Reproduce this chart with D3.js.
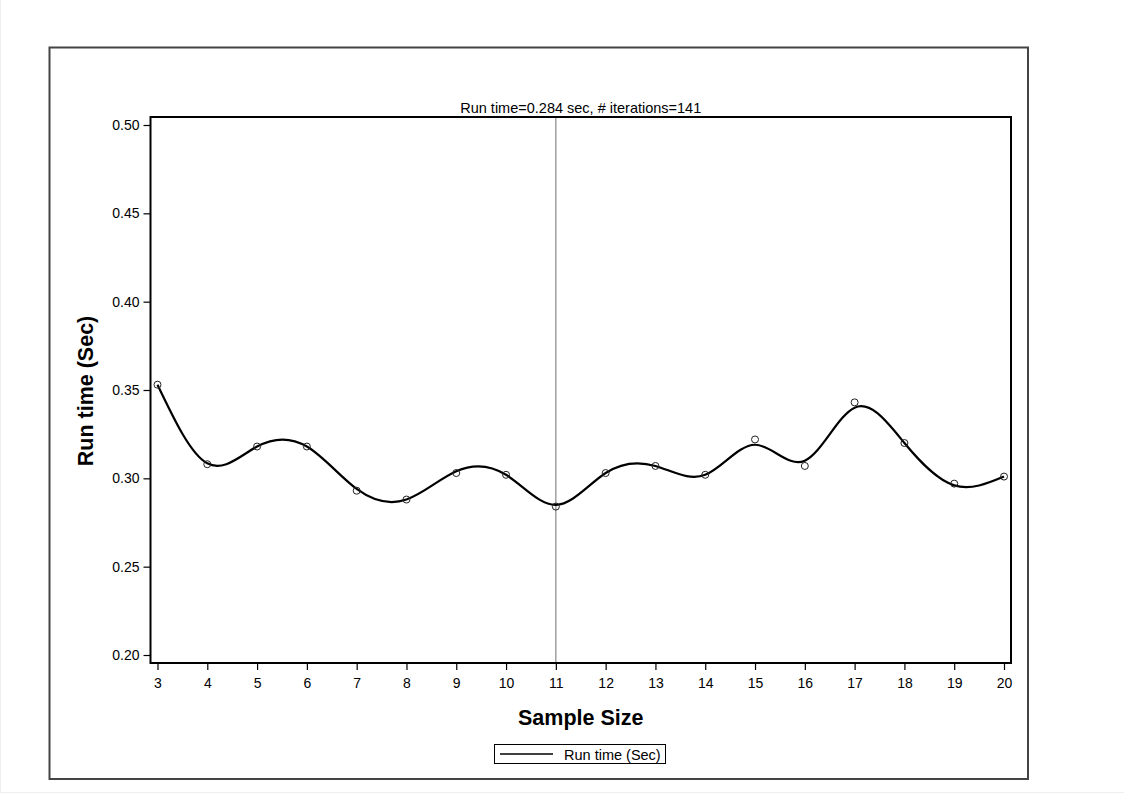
<!DOCTYPE html>
<html>
<head>
<meta charset="utf-8">
<script src="https://cdn.jsdelivr.net/npm/d3@7"></script>
<style>
  body { margin: 0; background: #fff; }
  text { font-family: "Liberation Sans", Arial, sans-serif; fill: #000; }
</style>
</head>
<body>
<svg id="chart" width="1124" height="793"></svg>
<script>
// sample sizes and observed run times
const sampleSizes = [3, 4, 5, 6, 7, 8, 9, 10, 11, 12, 13, 14, 15, 16, 17, 18, 19, 20];
const runTimes = [0.353, 0.308, 0.318, 0.318, 0.293, 0.288, 0.303, 0.302, 0.284, 0.303,
    0.307, 0.302, 0.322, 0.307, 0.343, 0.320, 0.297, 0.301];
// smoothed fit at each sample size
const fitTimes = [0.353, 0.3085, 0.318, 0.318, 0.294, 0.288, 0.304, 0.302, 0.285, 0.303,
    0.307, 0.302, 0.319, 0.310, 0.340, 0.320, 0.296, 0.301];
const yTicks = [0.20, 0.25, 0.30, 0.35, 0.40, 0.45, 0.50];
const refX = 11;
const titleText = "Run time=0.284 sec, # iterations=141";

const svg = d3.select("#chart");

// faint page edges
svg.append("line").attr("x1", 0.5).attr("x2", 0.5).attr("y1", 0).attr("y2", 793)
    .attr("stroke", "#eee");
svg.append("line").attr("x1", 0).attr("x2", 1124).attr("y1", 792.5).attr("y2", 792.5)
    .attr("stroke", "#eee");

// outer frame
svg.append("rect")
    .attr("x", 49.5).attr("y", 47.5)
    .attr("width", 978.5).attr("height", 731.5)
    .attr("fill", "none").attr("stroke", "#444").attr("stroke-width", 2);

const plot = { left: 150.5, top: 117, right: 1011, bottom: 663 };

const x = d3.scaleLinear().domain([3, 20]).range([157.5, 1004]);
const y = d3.scaleLinear().domain([0.20, 0.50]).range([655, 125]);

// reference line
svg.append("line")
    .attr("x1", x(refX)).attr("x2", x(refX))
    .attr("y1", plot.top).attr("y2", plot.bottom)
    .attr("stroke", "#888").attr("stroke-width", 1.2);

// axes
const yAxis = svg.append("g")
    .attr("transform", "translate(" + plot.left + ",0)")
    .call(d3.axisLeft(y).tickValues(yTicks).tickFormat(d3.format(".2f")).tickSize(7).tickPadding(4));
const xAxis = svg.append("g")
    .attr("transform", "translate(0," + plot.bottom + ")")
    .call(d3.axisBottom(x).tickValues(sampleSizes).tickFormat(d3.format("d")).tickSize(7).tickPadding(8));

[yAxis, xAxis].forEach(g => {
    g.select(".domain").remove();
    g.selectAll(".tick line").attr("stroke", "#000").attr("stroke-width", 1.2);
    g.selectAll(".tick text").attr("font-size", 14).attr("font-family", "Liberation Sans, Arial, sans-serif");
});

// plot frame
svg.append("rect")
    .attr("x", plot.left).attr("y", plot.top)
    .attr("width", plot.right - plot.left).attr("height", plot.bottom - plot.top)
    .attr("fill", "none").attr("stroke", "#000").attr("stroke-width", 2);

// smoothed curve
const line = d3.line()
    .x((d, i) => x(sampleSizes[i]))
    .y(d => y(d))
    .curve(d3.curveNatural);

svg.append("path")
    .datum(fitTimes)
    .attr("d", line)
    .attr("fill", "none")
    .attr("stroke", "#000")
    .attr("stroke-width", 2.2);

// observed points
svg.selectAll(".pt")
    .data(runTimes)
    .enter().append("circle")
    .attr("class", "pt")
    .attr("cx", (d, i) => x(sampleSizes[i]))
    .attr("cy", d => y(d))
    .attr("r", 3.5)
    .attr("fill", "none")
    .attr("stroke", "#222")
    .attr("stroke-width", 1);

// title
svg.append("text")
    .attr("x", (plot.left + plot.right) / 2)
    .attr("y", 113)
    .attr("text-anchor", "middle")
    .attr("font-size", 14.5)
    .text(titleText);

// axis titles
svg.append("text")
    .attr("x", (plot.left + plot.right) / 2)
    .attr("y", 725)
    .attr("text-anchor", "middle")
    .attr("font-size", 21.5)
    .attr("font-weight", "bold")
    .text("Sample Size");

svg.append("text")
    .attr("transform", "translate(93,391) rotate(-90)")
    .attr("text-anchor", "middle")
    .attr("font-size", 21.5)
    .attr("font-weight", "bold")
    .text("Run time (Sec)");

// legend
const legend = svg.append("g");
legend.append("rect")
    .attr("x", 494.5).attr("y", 744.5)
    .attr("width", 171).attr("height", 19)
    .attr("fill", "none").attr("stroke", "#000").attr("stroke-width", 1);
legend.append("line")
    .attr("x1", 500).attr("x2", 553)
    .attr("y1", 754).attr("y2", 754)
    .attr("stroke", "#000").attr("stroke-width", 1.5);
legend.append("text")
    .attr("x", 564).attr("y", 759.5)
    .attr("font-size", 14.5)
    .text("Run time (Sec)");
</script>
</body>
</html>
